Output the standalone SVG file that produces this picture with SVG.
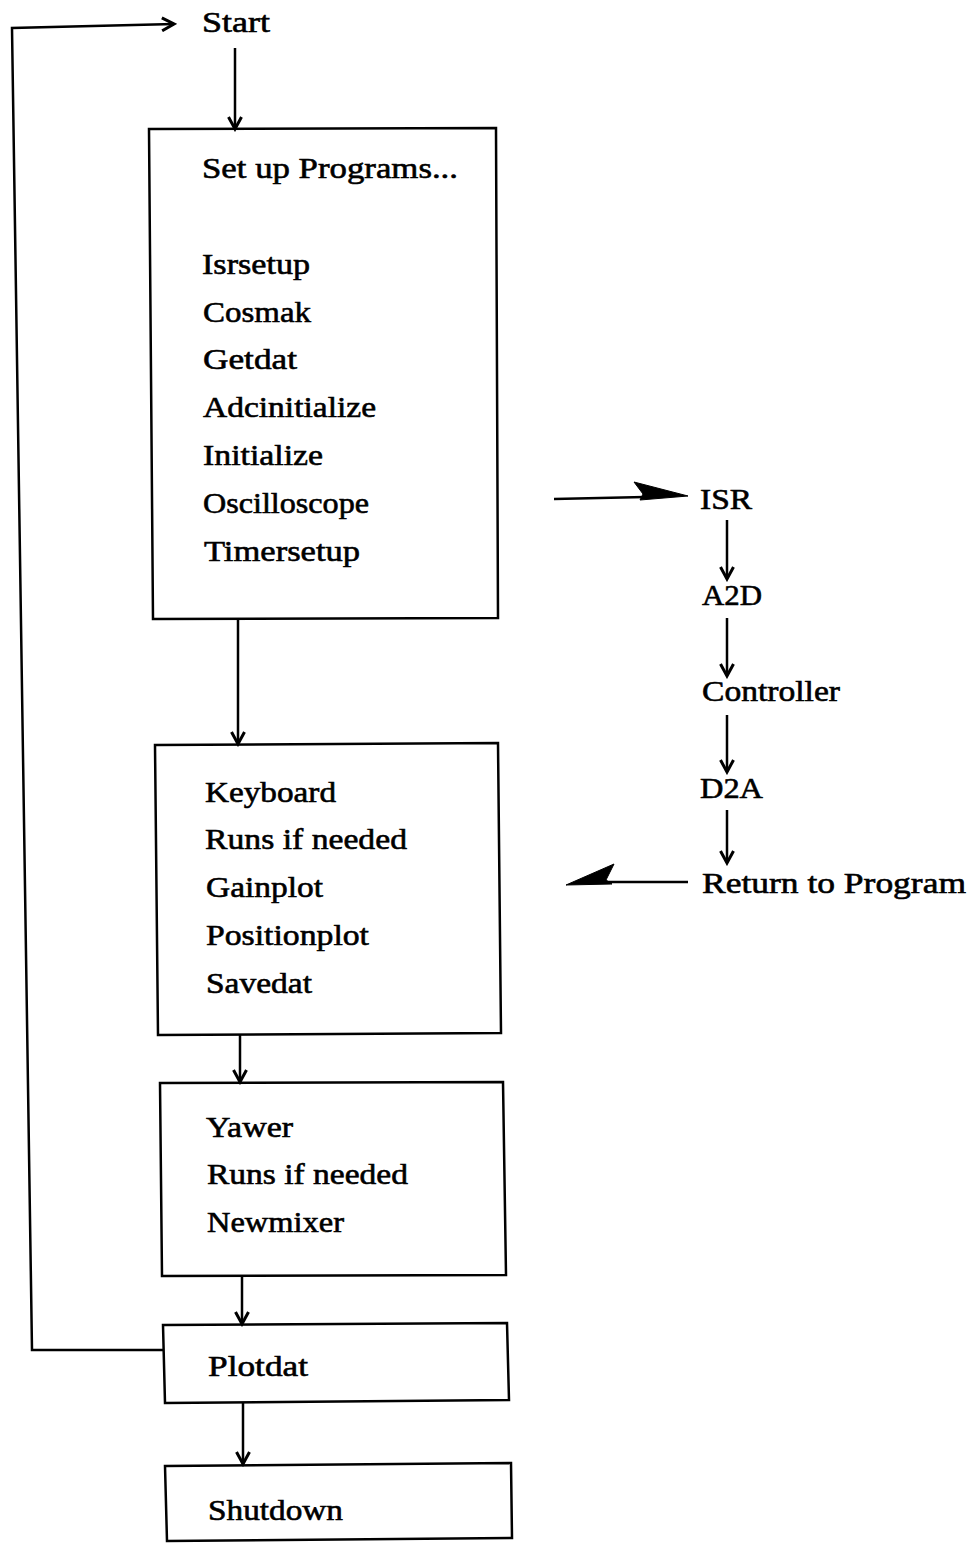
<svg xmlns="http://www.w3.org/2000/svg" width="972" height="1544" viewBox="0 0 972 1544">
  <defs>
    <style>
      .box { fill: none; stroke: #000; stroke-width: 2.5; stroke-linejoin: miter; }
      .ln { fill: none; stroke: #000; stroke-width: 2.5; }
      .lbl { font-family: "Liberation Serif", "Times New Roman", serif; font-size: 30px; fill: #000; stroke: #000; stroke-width: 0.6; }
      .harp { fill: #000; stroke: #000; stroke-width: 1; stroke-linejoin: round; }
    </style>
    <marker id="vhead" viewBox="0 0 16 16" refX="13" refY="8" markerWidth="16" markerHeight="16" markerUnits="userSpaceOnUse" orient="auto">
      <path d="M1,1.5 L13,8 L1,14.5" fill="none" stroke="#000" stroke-width="3"/>
    </marker>
  </defs>
  <rect width="972" height="1544" fill="#fff"/>

  <!-- connectors -->
  <g id="connectors">
    <!-- loop back from Plotdat to Start -->
    <polyline class="ln" points="163,1350 32,1350 12,28 174,24" marker-end="url(#vhead)"/>
    <line class="ln" x1="235" y1="48" x2="235" y2="129" marker-end="url(#vhead)"/>
    <line class="ln" x1="238" y1="619" x2="238" y2="744" marker-end="url(#vhead)"/>
    <line class="ln" x1="240" y1="1034" x2="240" y2="1082" marker-end="url(#vhead)"/>
    <line class="ln" x1="242" y1="1277" x2="242" y2="1324" marker-end="url(#vhead)"/>
    <line class="ln" x1="243" y1="1402" x2="243" y2="1464" marker-end="url(#vhead)"/>
    <!-- interrupt service chain -->
    <line class="ln" x1="727" y1="520" x2="727" y2="579" marker-end="url(#vhead)"/>
    <line class="ln" x1="727" y1="618" x2="727" y2="676" marker-end="url(#vhead)"/>
    <line class="ln" x1="727" y1="715" x2="727" y2="772" marker-end="url(#vhead)"/>
    <line class="ln" x1="727" y1="810" x2="727" y2="863" marker-end="url(#vhead)"/>
    <!-- jump to ISR -->
    <line class="ln" x1="554" y1="499" x2="645" y2="497"/>
    <path class="harp" d="M634,482 L688,496 L640,500 L643,494 Z"/>
    <!-- return from ISR -->
    <line class="ln" x1="688" y1="882" x2="605" y2="882"/>
    <path class="harp" d="M566,885 L614,864 L606,880 L612,884 Z"/>
  </g>

  <g id="start">
    <text class="lbl" x="202" y="32" textLength="68" lengthAdjust="spacingAndGlyphs">Start</text>
  </g>

  <g id="setup">
    <polygon class="box" points="149,129 496,128 498,618 153,619"/>
    <text class="lbl" x="202" y="178" textLength="256" lengthAdjust="spacingAndGlyphs">Set up Programs...</text>
    <text class="lbl" x="202" y="274" textLength="108" lengthAdjust="spacingAndGlyphs">Isrsetup</text>
    <text class="lbl" x="203" y="322" textLength="108" lengthAdjust="spacingAndGlyphs">Cosmak</text>
    <text class="lbl" x="203" y="369" textLength="94" lengthAdjust="spacingAndGlyphs">Getdat</text>
    <text class="lbl" x="203" y="417" textLength="173" lengthAdjust="spacingAndGlyphs">Adcinitialize</text>
    <text class="lbl" x="203" y="465" textLength="120" lengthAdjust="spacingAndGlyphs">Initialize</text>
    <text class="lbl" x="203" y="513" textLength="166" lengthAdjust="spacingAndGlyphs">Oscilloscope</text>
    <text class="lbl" x="204" y="561" textLength="156" lengthAdjust="spacingAndGlyphs">Timersetup</text>
  </g>

  <g id="loop">
    <polygon class="box" points="155,745 498,743 501,1033 158,1035"/>
    <text class="lbl" x="205" y="802" textLength="131" lengthAdjust="spacingAndGlyphs">Keyboard</text>
    <text class="lbl" x="205" y="849" textLength="202" lengthAdjust="spacingAndGlyphs">Runs if needed</text>
    <text class="lbl" x="206" y="897" textLength="117" lengthAdjust="spacingAndGlyphs">Gainplot</text>
    <text class="lbl" x="206" y="945" textLength="163" lengthAdjust="spacingAndGlyphs">Positionplot</text>
    <text class="lbl" x="206" y="993" textLength="106" lengthAdjust="spacingAndGlyphs">Savedat</text>
  </g>

  <g id="yaw">
    <polygon class="box" points="160,1083 503,1082 506,1275 162,1276"/>
    <text class="lbl" x="206" y="1137" textLength="87" lengthAdjust="spacingAndGlyphs">Yawer</text>
    <text class="lbl" x="207" y="1184" textLength="201" lengthAdjust="spacingAndGlyphs">Runs if needed</text>
    <text class="lbl" x="207" y="1232" textLength="137" lengthAdjust="spacingAndGlyphs">Newmixer</text>
  </g>

  <g id="plotdat">
    <polygon class="box" points="163,1325 507,1323 509,1400 165,1403"/>
    <text class="lbl" x="208" y="1376" textLength="100" lengthAdjust="spacingAndGlyphs">Plotdat</text>
  </g>

  <g id="shutdown">
    <polygon class="box" points="165,1466 511,1463 512,1538 167,1541"/>
    <text class="lbl" x="208" y="1520" textLength="135" lengthAdjust="spacingAndGlyphs">Shutdown</text>
  </g>

  <g id="isr"><text class="lbl" x="700" y="509" textLength="52" lengthAdjust="spacingAndGlyphs">ISR</text></g>
  <g id="a2d"><text class="lbl" x="702" y="605" textLength="60" lengthAdjust="spacingAndGlyphs">A2D</text></g>
  <g id="controller"><text class="lbl" x="702" y="701" textLength="138" lengthAdjust="spacingAndGlyphs">Controller</text></g>
  <g id="d2a"><text class="lbl" x="700" y="798" textLength="63" lengthAdjust="spacingAndGlyphs">D2A</text></g>
  <g id="return"><text class="lbl" x="702" y="893" textLength="264" lengthAdjust="spacingAndGlyphs">Return to Program</text></g>
</svg>
